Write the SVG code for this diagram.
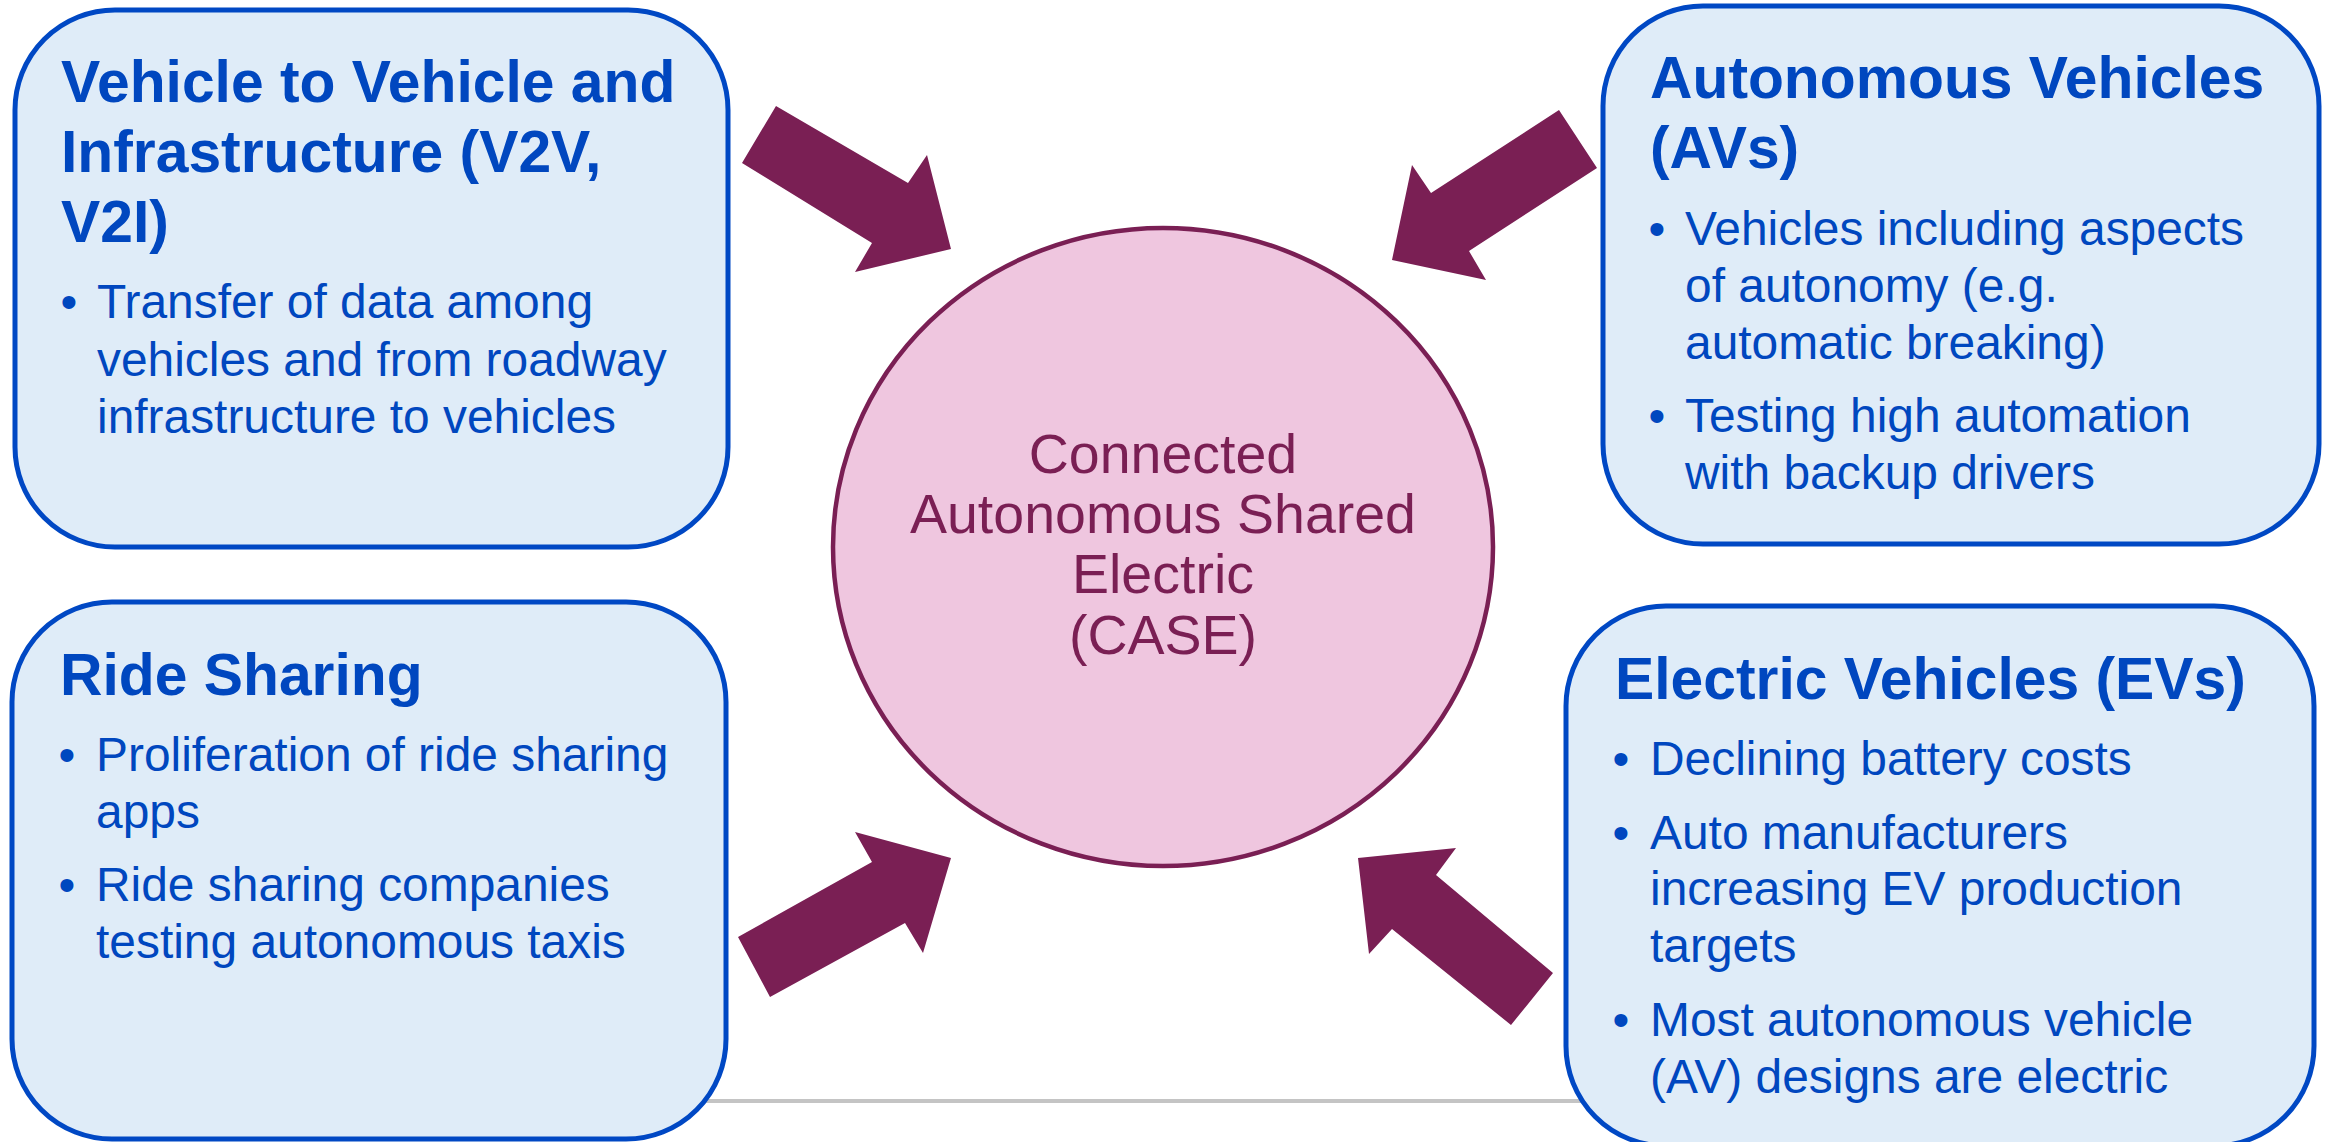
<svg xmlns="http://www.w3.org/2000/svg" width="2330" height="1142" viewBox="0 0 2330 1142">
<style>
.box{fill:#DFECF8;stroke:#0048C4;stroke-width:5}
.title{font-family:"Liberation Sans",Arial,sans-serif;font-weight:bold;font-size:58.8px;fill:#0047BF}
.body{font-family:"Liberation Sans",Arial,sans-serif;font-size:47.9px;fill:#0047BF}
.dot{font-family:"Liberation Sans",Arial,sans-serif;font-size:47.9px;fill:#0047BF;text-anchor:middle}
.arrow{fill:#7A1F54}
.ctext{font-family:"Liberation Sans",Arial,sans-serif;font-size:55.5px;fill:#7A1F54;text-anchor:middle}
</style>
<rect width="2330" height="1142" fill="#FFFFFF"/>
<line x1="650" y1="1101" x2="1620" y2="1101" stroke="#C4C4C4" stroke-width="4"/>
<g id="connectors">
<polygon class="arrow" points="776,106 908,183 927,155 951,249 855,272 872,243 742,163"/>
<polygon class="arrow" points="1559,110 1597,168 1469,251 1486,280 1392,260 1412,165 1431,193"/>
<polygon class="arrow" points="951,858 923,953 905,923 770,997 738,937 872,862 855,832"/>
<polygon class="arrow" points="1358,858 1456,848 1436,875 1553,973 1511,1025 1392,929 1369,954"/>
</g>
<g id="center">
<ellipse cx="1163" cy="547" rx="330" ry="319" fill="#EFC6DF" stroke="#7A1F54" stroke-width="4.5"/>
<text class="ctext" x="1163" y="473">Connected</text>
<text class="ctext" x="1163" y="533">Autonomous Shared</text>
<text class="ctext" x="1163" y="593">Electric</text>
<text class="ctext" x="1163" y="654">(CASE)</text>
</g>
<g id="v2v">
<rect class="box" x="15" y="10" width="713" height="537" rx="100" ry="100"/>
<text class="title" x="61" y="102">Vehicle to Vehicle and</text>
<text class="title" x="61" y="172">Infrastructure (V2V,</text>
<text class="title" x="61" y="242">V2I)</text>
<text class="dot" x="69" y="318">•</text>
<text class="body" x="97" y="318">Transfer of data among</text>
<text class="body" x="97" y="376">vehicles and from roadway</text>
<text class="body" x="97" y="433">infrastructure to vehicles</text>
</g>
<g id="avs">
<rect class="box" x="1603" y="6" width="716" height="538" rx="100" ry="100"/>
<text class="title" x="1650" y="98">Autonomous Vehicles</text>
<text class="title" x="1650" y="168">(AVs)</text>
<text class="dot" x="1657" y="245">•</text>
<text class="body" x="1685" y="245">Vehicles including aspects</text>
<text class="body" x="1685" y="302">of autonomy (e.g.</text>
<text class="body" x="1685" y="359">automatic breaking)</text>
<text class="dot" x="1657" y="432">•</text>
<text class="body" x="1685" y="432">Testing high automation</text>
<text class="body" x="1685" y="489">with backup drivers</text>
</g>
<g id="ride">
<rect class="box" x="12" y="602" width="714" height="537" rx="100" ry="100"/>
<text class="title" x="60" y="695">Ride Sharing</text>
<text class="dot" x="67" y="771">•</text>
<text class="body" x="96" y="771">Proliferation of ride sharing</text>
<text class="body" x="96" y="828">apps</text>
<text class="dot" x="67" y="901">•</text>
<text class="body" x="96" y="901">Ride sharing companies</text>
<text class="body" x="96" y="958">testing autonomous taxis</text>
</g>
<g id="evs">
<rect class="box" x="1566" y="606" width="748" height="540" rx="100" ry="100"/>
<text class="title" x="1615" y="699">Electric Vehicles (EVs)</text>
<text class="dot" x="1621" y="775">•</text>
<text class="body" x="1650" y="775">Declining battery costs</text>
<text class="dot" x="1621" y="849">•</text>
<text class="body" x="1650" y="849">Auto manufacturers</text>
<text class="body" x="1650" y="905">increasing EV production</text>
<text class="body" x="1650" y="962">targets</text>
<text class="dot" x="1621" y="1036">•</text>
<text class="body" x="1650" y="1036">Most autonomous vehicle</text>
<text class="body" x="1650" y="1093">(AV) designs are electric</text>
</g>
</svg>
